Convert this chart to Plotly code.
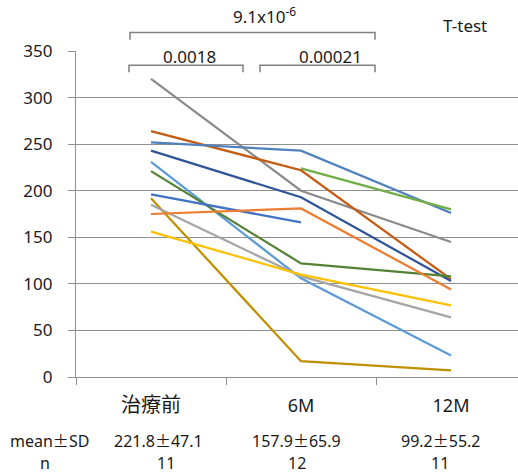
import plotly.graph_objects as go

categories = ["治療前", "6M", "12M"]

# each patient series: [baseline, 6M, 12M]
s01 = [320, 200, 145]
s02 = [264, 222, 105]
s03 = [252, 243, 176]
s04 = [243, 193, 103]
s05 = [231, 106, 23]
s06 = [221, 122, 108]
s07 = [196, 166, None]
s08 = [192, 17, 7]
s09 = [185, 108, 64]
s10 = [175, 181, 94]
s11 = [156, 110, 77]
s12 = [None, 224, 180]
series = [s01, s02, s03, s04, s05, s06, s07, s08, s09, s10, s11, s12]
colors = ["#8a8a8a", "#c55a11", "#4f81bd", "#2f5597", "#5b9bd5", "#548235",
          "#4472c4", "#bf9000", "#a5a5a5", "#ed7d31", "#ffc000", "#70ad47"]

y_ticks = [0, 50, 100, 150, 200, 250, 300, 350]
mean_sd = ["221.8±47.1", "157.9±65.9", "99.2±55.2"]
n_vals = ["11", "12", "11"]
p_labels = ["0.0018", "0.00021", "9.1x10<sup>-6</sup>"]

W, H = 518, 474
L, R, T, B = 76, 0, 50.7, 97.3
pw, ph = W - L - R, H - T - B


def px(x):
    return (x - L) / pw


def py(y):
    return (H - B - y) / ph


fig = go.Figure()
for s, c in zip(series, colors):
    fig.add_trace(go.Scatter(x=categories, y=s, mode="lines",
                             line=dict(color=c, width=2.25),
                             connectgaps=False, hoverinfo="skip"))

font_main = "Noto Sans, Noto Sans CJK JP, sans-serif"
txt = "#1a1a1a"
grid = "#8f8f8f"
CJK = "Noto Sans CJK JP"


def pm(t):
    return t.replace("±", f'<span style="font-family:{CJK}">±</span>')


ticktext = [f'<span style="font-family:{CJK};font-size:20px">治療前</span>', "6M", "12M"]

fig.update_layout(
    width=W, height=H,
    margin=dict(l=L, r=R, t=T, b=B, pad=0),
    plot_bgcolor="white", paper_bgcolor="white",
    showlegend=False,
    font=dict(family=font_main, size=17, color=txt),
    xaxis=dict(type="category", categoryarray=categories,
               range=[-0.5, -0.5 + pw / 150.0],
               tickmode="array", tickvals=categories, ticktext=ticktext,
               tickson="boundaries", ticks="outside", ticklen=7,
               tickcolor=grid, showline=True, linecolor=grid, linewidth=1.3,
               showgrid=False, ticklabelstandoff=12,
               tickfont=dict(size=18, color=txt)),
    yaxis=dict(range=[0, 350], tickvals=y_ticks, ticks="outside", ticklen=7,
               tickcolor=grid, showline=True, linecolor=grid, linewidth=1.3,
               showgrid=True, gridcolor=grid, gridwidth=1.3, zeroline=False,
               ticklabelstandoff=12, tickfont=dict(size=17, color=txt)),
)

# brackets
br_col = "#808080"
brackets = [
    (130, 375, 32.3, 39.5),
    (129, 243, 65, 72),
    (260, 375, 65, 72),
]
for x0, x1, yt, yb in brackets:
    fig.add_shape(type="path", xref="paper", yref="paper",
                  path=f"M {px(x0)} {py(yb)} L {px(x0)} {py(yt)} L {px(x1)} {py(yt)} L {px(x1)} {py(yb)}",
                  line=dict(color=br_col, width=1.5))


def note(text, x, y, size=17, yanchor="middle"):
    return dict(text=text, x=px(x), y=py(y), xref="paper", yref="paper",
                xanchor="center", yanchor=yanchor, showarrow=False,
                font=dict(size=size, color=txt))


ann = [
    note(p_labels[0], 189, 56),
    note(p_labels[1], 330, 56),
    note(p_labels[2], 264, 30, yanchor="bottom"),
    note("T-test", 465, 25),
    note(pm("mean±SD"), 49, 440, size=16),
    note("n", 45, 463, size=16),
]
for t, xc in zip(mean_sd, [158, 296, 441]):
    ann.append(note(pm(t), xc, 440, size=16))
for t, xc in zip(n_vals, [166, 297, 440]):
    ann.append(note(t, xc, 463, size=16))
fig.update_layout(annotations=ann)

fig.write_html("out.html", config={"displayModeBar": False},
               post_script="document.body.style.margin='0';document.body.style.overflow='hidden';")
